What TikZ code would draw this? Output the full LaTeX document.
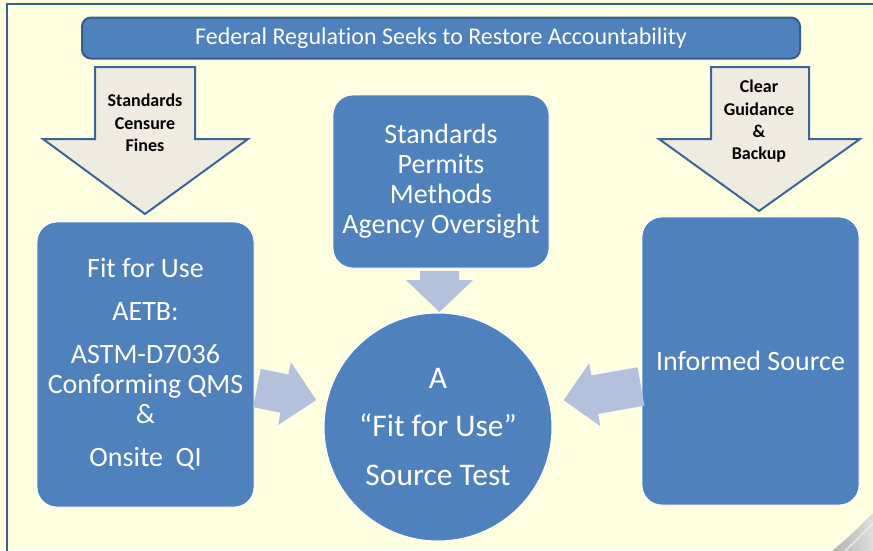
\documentclass[tikz,border=0pt]{standalone}
\usepackage{fontspec}
\setmainfont[Ligatures={TeX,NoCommon}]{Carlito}
\definecolor{paper}{RGB}{254,254,224}
\definecolor{frameblue}{RGB}{60,95,145}
\definecolor{boxblue}{RGB}{79,129,189}
\definecolor{boxedge}{RGB}{56,93,138}
\definecolor{lightarrow}{RGB}{179,193,221}
\definecolor{beige}{RGB}{238,236,225}
\definecolor{beigeedge}{RGB}{62,100,150}
\begin{document}
\begin{tikzpicture}[x=1pt,y=-1pt,
  bluebox/.style={draw=white, line width=0.8pt, fill=boxblue, rounded corners=20pt,
    text=white, align=center, inner sep=0pt},
  bigtext/.style={font=\fontsize{28}{30}\selectfont},
  downarrow/.style={fill=beige, draw=beigeedge, line width=2pt, line join=miter},
  arrowtext/.style={font=\bfseries\fontsize{18}{22.3}\selectfont, align=center, text=black},
  feed/.style={fill=lightarrow}]
\useasboundingbox (0,0) rectangle (873,550);
\fill[paper] (0,0) rectangle (873,550);

% slide frame
\draw[frameblue, line width=2.4pt] (7,560) -- (7,4) -- (880,4);

% banner
\node[draw=boxedge, line width=2pt, fill=boxblue, rounded corners=9pt, inner sep=0pt,
  minimum width=718, minimum height=41, text=white, font=\fontsize{24}{28}\selectfont]
  (banner) at (441,38) {Federal Regulation Seeks to Restore Accountability};

% large labelled arrows under the banner
\draw[downarrow] (95,67) -- (195,67) -- (195,139) -- (248,139) -- (145,214)
  -- (43,139) -- (95,139) -- cycle;
\node[arrowtext] (penalty) at (145,123) {Standards\\Censure\\Fines};
\draw[downarrow] (711,67) -- (809,67) -- (809,139) -- (860,139) -- (759,211)
  -- (659,139) -- (711,139) -- cycle;
\node[arrowtext] (guide) at (759,121.5) {Clear\\Guidance\\\&\\Backup};

% boxes
\node[bluebox, bigtext, minimum width=217, minimum height=285] (fit) at (145.5,364.5)
  {Fit for Use\\[13pt] AETB:\\[13pt] ASTM-D7036\\ Conforming QMS\\ \&\\[13pt] Onsite\ \ QI};
\node[bluebox, bigtext, minimum width=216, minimum height=173] (rules) at (441,181.5)
  {Standards\\Permits\\Methods\\Agency Oversight};
\node[bluebox, bigtext, minimum width=217, minimum height=288] (source) at (750.5,361)
  {Informed Source};

% short feed arrows
\fill[feed] (420,271) -- (459,271) -- (459,280) -- (473,280) -- (439.5,312)
  -- (406,280) -- (420,280) -- cycle;
\begin{scope}[shift={(257,388)}, rotate=-11.5]
  \fill[feed] (0,-19.5) -- (28,-19.5) -- (28,-32) -- (60.5,0) -- (28,32)
    -- (28,19.5) -- (0,19.5) -- cycle;
\end{scope}
\begin{scope}[shift={(641,386.5)}, rotate=190]
  \fill[feed] (0,-19.5) -- (47,-19.5) -- (47,-32) -- (78.5,0) -- (47,32)
    -- (47,19.5) -- (0,19.5) -- cycle;
\end{scope}

% central circle
\node[circle, draw=white, line width=1pt, fill=boxblue, minimum size=228, inner sep=0pt,
  text=white, align=center, font=\fontsize{31.5}{48.5}\selectfont] (test) at (438,427)
  {A\\“Fit for Use”\\Source Test};

% page curl in the corner
\shade[left color=gray!60, right color=gray!25]
  (832,551) .. controls (848,538) and (862,524) .. (874,512) -- (874,551) -- cycle;
\draw[white!85!gray, line width=1.2pt]
  (845,551) .. controls (856,541) and (865,531) .. (874,522);
\end{tikzpicture}
\end{document}
